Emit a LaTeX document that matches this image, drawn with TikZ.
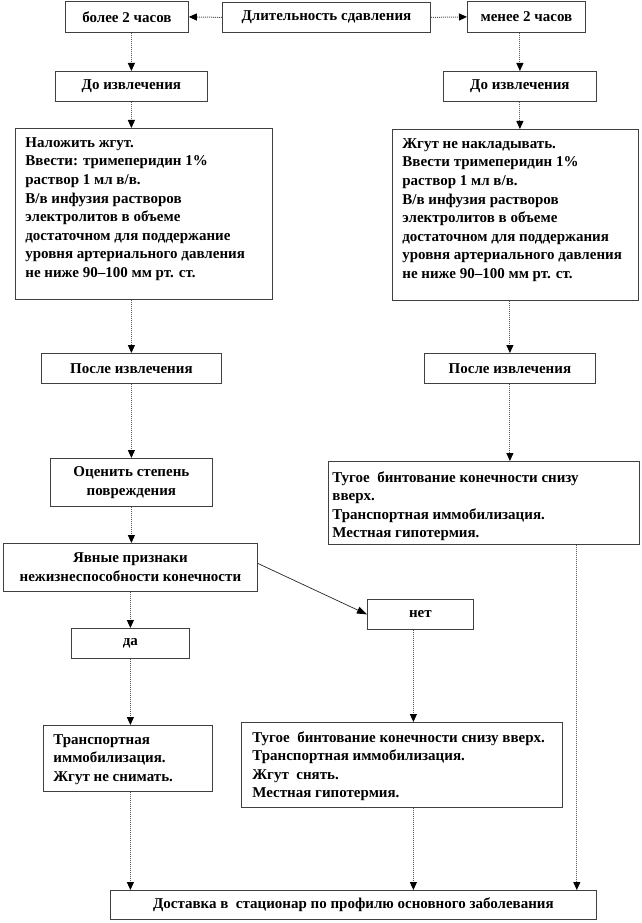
\documentclass[tikz,border=0pt]{standalone}
\usepackage{fontspec}
\setmainfont{Liberation Serif}
\usetikzlibrary{arrows.meta}
\newcommand{\tbox}[3]{\parbox[c][#2][t]{#1}{\raggedright #3}}
\begin{document}
\begin{tikzpicture}[x=1pt,y=-1pt,
 every node/.style={font=\fontsize{15}{18.6}\selectfont\bfseries},
 bx/.style={draw=black!75, line width=0.8pt, fill=white, anchor=north west, inner sep=0pt, align=center},
 mbx/.style={draw=black!75, line width=0.8pt, fill=white, anchor=north west, inner xsep=10pt, inner ysep=9pt},
 con/.style={draw=black!65, densely dotted, line width=1pt, -{Triangle[length=8pt,width=7pt,color=black]}},
 diag/.style={draw=black!85, line width=0.7pt, -{Triangle[length=10pt,width=7pt,color=black]}}
]
\useasboundingbox[fill=white] (0,0) rectangle (642,923);

\node[bx, minimum width=123pt, minimum height=31pt] (bolee) at (65,1) {более 2 часов};
\node[bx, minimum width=208pt, minimum height=30pt] (dur) at (222,2) {Длительность сдавления};
\node[bx, minimum width=118pt, minimum height=31pt] (menee) at (467,1) {менее 2 часов};

\node[bx, minimum width=152pt, minimum height=30pt] (do1) at (55,71) {До извлечения};
\node[bx, minimum width=153pt, minimum height=30pt] (do2) at (443,71) {До извлечения};

\node[mbx] (big1) at (15,128) {\tbox{237pt}{153pt}{Наложить жгут.\\ Ввести: тримеперидин 1\%\\ раствор 1 мл в/в.\\ В/в инфузия растворов\\ электролитов в объеме\\ достаточном для поддержание\\ уровня артериального давления\\ не ниже 90–100 мм рт. ст.}};
\node[mbx] (big2) at (392,129) {\tbox{226pt}{153pt}{Жгут не накладывать.\\ Ввести тримеперидин 1\%\\ раствор 1 мл в/в.\\ В/в инфузия растворов\\ электролитов в объеме\\ достаточном для поддержания\\ уровня артериального давления\\ не ниже 90–100 мм рт. ст.}};

\node[bx, minimum width=180pt, minimum height=30pt] (posle1) at (41,353) {После извлечения};
\node[bx, minimum width=171pt, minimum height=30pt] (posle2) at (424,353) {После извлечения};

\node[bx, minimum width=162pt, minimum height=48pt] (ocen) at (50,458) {Оценить степень\\ повреждения};
\node[bx, minimum width=254pt, minimum height=48pt] (yav) at (3,543) {Явные признаки\\ нежизнеспособности конечности};

\node[mbx, inner xsep=4pt, inner ysep=10pt] (tug1) at (328,461) {\tbox{303pt}{63pt}{Тугое\ \ бинтование конечности снизу\\ вверх.\\ Транспортная иммобилизация.\\ Местная гипотермия.}};

\node[bx, minimum width=118pt, minimum height=30pt] (da) at (71,628) {да};
\node[bx, minimum width=106pt, minimum height=30pt] (net) at (367,599) {нет};

\node[mbx] (trans) at (43,725) {\tbox{149pt}{48pt}{Транспортная\\ иммобилизация.\\ Жгут не снимать.}};
\node[mbx, inner xsep=11pt] (tug2) at (241,722) {\tbox{299pt}{67pt}{Тугое\ \ бинтование конечности снизу вверх.\\ Транспортная иммобилизация.\\ Жгут\ \ снять.\\ Местная гипотермия.}};

\node[bx, minimum width=486pt, minimum height=29pt] (dost) at (110,890) {Доставка в\ \ стационар по профилю основного заболевания};

\coordinate (r1) at ([xshift=-20pt]dost.north east);
\coordinate (n1) at ([xshift=-7pt]net.south);

\draw[con] (dur.west) -- (bolee.east);
\draw[con] (dur.east) -- (menee.west);
\draw[con] (bolee.south -| do1.north) -- (do1.north);
\draw[con] (do1.south) -- (do1.south |- big1.north);
\draw[con] (posle1.north |- big1.south) -- (posle1.north);
\draw[con] (posle1.south) -- (posle1.south |- ocen.north);
\draw[con] (ocen.south) -- (ocen.south |- yav.north);
\draw[con] (yav.south) -- (yav.south |- da.north);
\draw[con] (da.south) -- (da.south |- trans.north);
\draw[con] (da.south |- trans.south) -- (da.south |- dost.north);
\draw[diag] ([yshift=4pt]yav.east) -- (net.west);

\draw[con] (menee.south -| do2.north) -- (do2.north);
\draw[con] (do2.south) -- (do2.south |- big2.north);
\draw[con] (posle2.north |- big2.south) -- (posle2.north);
\draw[con] (posle2.south) -- (posle2.south |- tug1.north);
\draw[con] (r1 |- tug1.south) -- (r1);
\draw[con] (n1) -- (n1 |- tug2.north);
\draw[con] (n1 |- tug2.south) -- (n1 |- dost.north);
\end{tikzpicture}
\end{document}
